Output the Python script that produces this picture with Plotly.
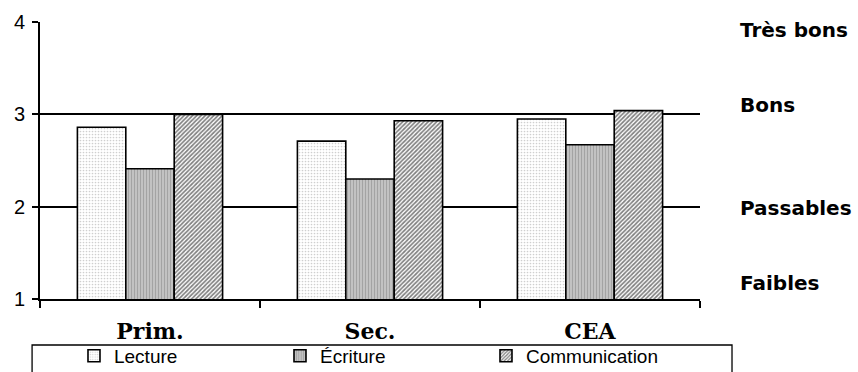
import plotly.graph_objects as go

categories = ["Prim.", "Sec.", "CEA"]
series_names = ["Lecture", "Écriture", "Communication"]
lecture = [2.86, 2.71, 2.95]
ecriture = [2.41, 2.30, 2.67]
communication = [3.00, 2.93, 3.04]
y_ticks = [1, 2, 3, 4]
level_labels = ["Très bons", "Bons", "Passables", "Faibles"]
level_positions = [3.91, 3.1, 1.99, 1.17]

patterns = [
    dict(shape=".", fgcolor="#a0a0a0", bgcolor="#ffffff", size=3, solidity=0.25),
    dict(shape="|", fgcolor="#7a7a7a", bgcolor="#cccccc", size=3, solidity=0.5),
    dict(shape="/", fgcolor="#000000", bgcolor="#ffffff", size=3, solidity=0.55),
]

fig = go.Figure()
for name, vals, pat in zip(series_names, [lecture, ecriture, communication], patterns):
    fig.add_trace(go.Bar(
        x=categories, y=vals, name=name,
        marker=dict(color="white", pattern=pat, line=dict(color="black", width=1.6)),
    ))

for lab, pos in zip(level_labels, level_positions):
    fig.add_annotation(
        x=1.0575, xref="paper", xanchor="left", y=pos, yref="y", yanchor="middle",
        text=lab, showarrow=False,
        font=dict(family="DejaVu Sans", size=20, color="black", weight="bold"),
    )

# legend frame
fig.add_shape(type="rect", xref="paper", yref="paper",
              x0=-0.012, x1=1.0485, y0=-0.166, y1=-0.35,
              line=dict(color="black", width=1.3), fillcolor="rgba(0,0,0,0)")

fig.update_layout(
    width=858, height=372,
    margin=dict(l=40, r=158, t=22, b=73, autoexpand=False),
    plot_bgcolor="white", paper_bgcolor="white",
    barmode="group", bargap=0.34, bargroupgap=0,
    showlegend=True,
    legend=dict(
        orientation="h", x=0.0515, xanchor="left", y=-0.137, yanchor="top",
        borderwidth=0, bgcolor="rgba(0,0,0,0)",
        font=dict(family="Liberation Sans", size=19, color="black"),
        entrywidth=161, entrywidthmode="pixels",
        traceorder="normal",
    ),
    xaxis=dict(
        type="category", tickson="boundaries", ticks="outside", ticklen=7,
        tickcolor="black", tickwidth=1.5, automargin=False,
        showline=True, linecolor="black", linewidth=2, showgrid=False,
        tickfont=dict(family="DejaVu Serif", size=22, color="black", weight="bold"),
        ticklabelstandoff=12,
    ),
    yaxis=dict(
        range=[1, 4], tickvals=y_ticks, ticks="outside", ticklen=6,
        tickcolor="black", tickwidth=1.5, automargin=False,
        showline=True, linecolor="black", linewidth=2,
        showgrid=True, gridcolor="black", gridwidth=1.5,
        tickfont=dict(family="Liberation Sans", size=20, color="black"),
        ticklabelstandoff=3, zeroline=False,
    ),
)

fig.write_html("out.html", config={"displayModeBar": False},
               post_script="document.body.style.margin='0';document.body.style.overflow='hidden';")
